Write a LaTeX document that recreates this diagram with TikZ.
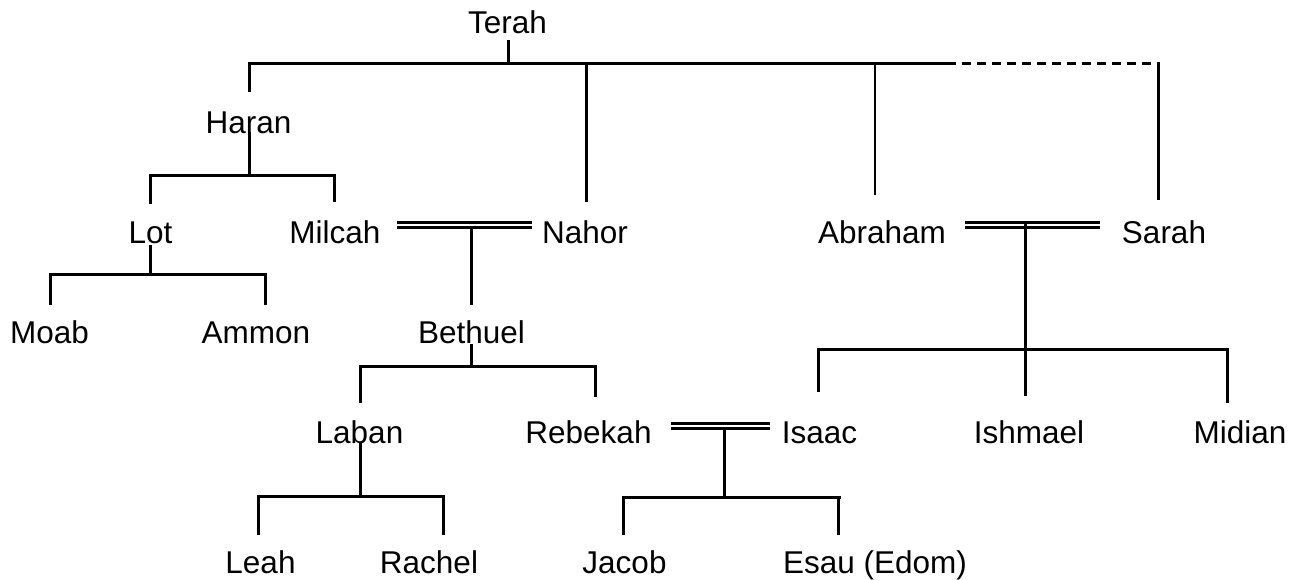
\documentclass[tikz,border=0pt]{standalone}
\usepackage{fontspec}
\setmainfont{Liberation Sans}
\begin{document}
\begin{tikzpicture}[x=1pt,y=-1pt,
  person/.style={anchor=base,inner sep=0pt,font=\fontsize{31.5}{36}\selectfont},
  ln/.style={line width=3pt},
  thinln/.style={line width=2pt},
  marriage/.style={line width=3pt,double distance=2pt},
  dashln/.style={line width=3pt,dash pattern=on 9pt off 6pt}]
\useasboundingbox (0,0) rectangle (1307,579);

% ---- people ----
\node[person] (terah)    at (507.5,33)  {Terah};
\node[person] (haran)    at (248.5,133) {Haran};
\node[person] (lot)      at (150.5,243) {Lot};
\node[person] (milcah)   at (335,243)   {Milcah};
\node[person] (nahor)    at (585,243)   {Nahor};
\node[person] (abraham)  at (882,243)   {Abraham};
\node[person] (sarah)    at (1164,243)  {Sarah};
\node[person] (moab)     at (49.5,343)  {Moab};
\node[person] (ammon)    at (256,343)   {Ammon};
\node[person] (bethuel)  at (471.5,343) {Bethuel};
\node[person] (laban)    at (359.5,443) {Laban};
\node[person] (rebekah)  at (588.5,443) {Rebekah};
\node[person] (isaac)    at (819.5,443) {Isaac};
\node[person] (ishmael)  at (1029,443)  {Ishmael};
\node[person] (midian)   at (1240,443)  {Midian};
\node[person] (leah)     at (260.5,573) {Leah};
\node[person] (rachel)   at (429,573)   {Rachel};
\node[person] (jacob)    at (624.5,573) {Jacob};
\node[person] (esau)     at (875,573)   {Esau (Edom)};

% ---- attachment points ----
\coordinate (terah-dn)   at (508,40);
\coordinate (terah-j)    at (508,63);
\coordinate (haran-up)   at (249,92);
\coordinate (haran-dn)   at (249,132);
\coordinate (haran-j)    at (249,175);
\coordinate (line-end)   at (947,63);
\coordinate (sarah-top)  at (1158,63);
\coordinate (sarah-up)   at (1158,200);
\coordinate (nahor-top)  at (586,63);
\coordinate (nahor-up)   at (586,202);
\coordinate (abraham-top) at (875,63);
\coordinate (abraham-up) at (875,195);
\coordinate (lot-up)     at (150,204);
\coordinate (milcah-top) at (334,175);
\coordinate (milcah-up)  at (334,202);
\coordinate (lot-dn)     at (150,245);
\coordinate (lot-j)      at (150,274);
\coordinate (moab-up)    at (50,305);
\coordinate (ammon-top)  at (265,274);
\coordinate (ammon-up)   at (265,305);
\coordinate (mn-l)       at (397,225);
\coordinate (mn-r)       at (532,225);
\coordinate (mn-j)       at (471.5,227.5);
\coordinate (bethuel-up) at (471.5,305);
\coordinate (bethuel-dn) at (471.5,344);
\coordinate (bethuel-j)  at (471.5,366);
\coordinate (laban-up)   at (360,403);
\coordinate (rebekah-top) at (595,366);
\coordinate (rebekah-up) at (595,397);
\coordinate (as-l)       at (965,225);
\coordinate (as-r)       at (1100,225);
\coordinate (as-j)       at (1025,222);
\coordinate (ishmael-up) at (1025,396);
\coordinate (isaac-up)   at (818,392);
\coordinate (midian-top) at (1227,349);
\coordinate (midian-up)  at (1227,403);
\coordinate (laban-dn)   at (360,443);
\coordinate (laban-j)    at (360,496);
\coordinate (leah-up)    at (258,535);
\coordinate (rachel-top) at (443,496);
\coordinate (rachel-up)  at (443,535);
\coordinate (ri-l)       at (671,426.3);
\coordinate (ri-r)       at (770,426.3);
\coordinate (ri-j)       at (724,429);
\coordinate (ri-dn)      at (724,499);
\coordinate (jacob-up)   at (623,535);
\coordinate (jj-r)       at (841,497);
\coordinate (esau-top)   at (838,497);
\coordinate (esau-up)    at (838,535);

% ---- Terah's children ----
\draw[ln] (terah-dn) -- (terah-j);
\draw[ln] (haran-up) |- (line-end);
\draw[dashln] (line-end) -- (sarah-top);
\draw[ln] ([yshift=1.5pt]sarah-top) -- (sarah-up);
\draw[ln] (nahor-top) -- (nahor-up);
\draw[thinln] (abraham-top) -- (abraham-up);

% ---- Haran's line ----
\draw[ln] (haran-dn) -- (haran-j);
\draw[ln] (lot-up) |- (milcah-top) -- (milcah-up);
\draw[ln] (lot-dn) -- (lot-j);
\draw[ln] (moab-up) |- (ammon-top) -- (ammon-up);

% ---- Milcah and Nahor ----
\draw[marriage] (mn-l) -- (mn-r);
\draw[ln] (mn-j) -- (bethuel-up);
\draw[ln] (bethuel-dn) -- (bethuel-j);
\draw[ln] (laban-up) |- (rebekah-top) -- (rebekah-up);
\draw[ln] (laban-dn) -- (laban-j);
\draw[ln] (leah-up) |- (rachel-top) -- (rachel-up);

% ---- Abraham and Sarah ----
\draw[marriage] (as-l) -- (as-r);
\draw[ln] (as-j) -- (ishmael-up);
\draw[ln] (isaac-up) |- (midian-top) -- (midian-up);

% ---- Rebekah and Isaac ----
\draw[marriage] (ri-l) -- (ri-r);
\draw[ln] (ri-j) -- (ri-dn);
\draw[ln] (jacob-up) |- (jj-r);
\draw[ln] (esau-top) -- (esau-up);
\end{tikzpicture}
\end{document}
